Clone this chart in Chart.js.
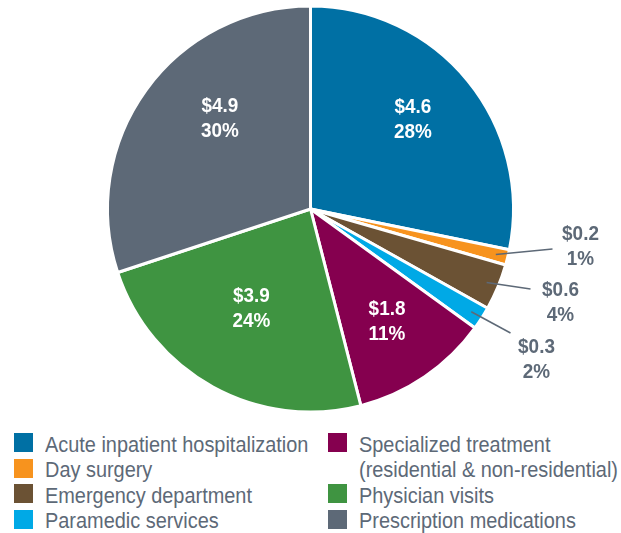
<!DOCTYPE html>
<html>
<head>
<meta charset="utf-8">
<script src="https://cdn.jsdelivr.net/npm/chart.js@4.4.0/dist/chart.umd.min.js"></script>
<style>
  html, body { margin: 0; padding: 0; background: #fff; }
  body { width: 621px; height: 533px; position: relative; overflow: hidden;
    font-family: "Liberation Sans", Arial, sans-serif; }
  #wrap { position: absolute; left: 0; top: 0; width: 621px; height: 418px; }
  .col { position: absolute; top: 431.5px; }
  .item { display: flex; align-items: flex-start; color: #5d6977; font-size: 22px; line-height: 25.5px; white-space: nowrap; }
  .sw { width: 19px; height: 19px; margin: 1.5px 12px 0 0; flex: none; }
  .txt { display: inline-block; transform: scaleX(0.905); transform-origin: 0 0; }
</style>
</head>
<body>
<div id="wrap"><canvas id="pie"></canvas></div>
<div class="col" id="col1" style="left:14px"></div>
<div class="col" id="col2" style="left:328px"></div>
<script>
// data (billions $)
const CATEGORIES = [
  'Acute inpatient hospitalization',
  'Day surgery',
  'Emergency department',
  'Paramedic services',
  ['Specialized treatment', '(residential & non-residential)'],
  'Physician visits',
  'Prescription medications'
];
const AMOUNTS = [4.6, 0.2, 0.6, 0.3, 1.8, 3.9, 4.9];
const PERCENTS = [28, 1, 4, 2, 11, 24, 30];
const COLORS = ['#0070a4', '#f7931e', '#6b5234', '#00a9e6', '#85004f', '#3f9441', '#5d6977'];

// label placement: inside (r = fraction of radius, da = angle shift in deg)
// or outside: leader end + text centre, both as offsets from the pie centre
const PLACE = [
  { r: 0.67, da: -2 },
  { end: [242, 40], text: [270, 38] },
  { end: [220, 80], text: [250, 94] },
  { end: [200, 124], text: [226, 151] },
  { r: 0.67, da: 0 },
  { r: 0.57, da: 2 },
  { r: 0.63, da: 9 }
];

const sliceLabels = {
  id: 'sliceLabels',
  afterDatasetsDraw(chart) {
    const ctx = chart.ctx;
    const meta = chart.getDatasetMeta(0);
    ctx.save();
    ctx.font = 'bold 21px "Liberation Sans", Arial, sans-serif';
    ctx.textAlign = 'center';
    ctx.textBaseline = 'middle';
    meta.data.forEach((arc, i) => {
      const p = arc.getProps(['x', 'y', 'startAngle', 'endAngle', 'outerRadius'], true);
      const mid = (p.startAngle + p.endAngle) / 2;
      const pl = PLACE[i];
      const lines = ['$' + AMOUNTS[i].toFixed(1), PERCENTS[i] + '%'];
      let cx, cy;
      if (pl.end) {
        const sx = p.x + Math.cos(mid) * p.outerRadius * 0.94;
        const sy = p.y + Math.sin(mid) * p.outerRadius * 0.94;
        ctx.strokeStyle = '#5d6977';
        ctx.lineWidth = 1.5;
        ctx.beginPath(); ctx.moveTo(sx, sy); ctx.lineTo(p.x + pl.end[0], p.y + pl.end[1]); ctx.stroke();
        cx = p.x + pl.text[0]; cy = p.y + pl.text[1];
        ctx.fillStyle = '#5d6977';
      } else {
        const a = mid + pl.da * Math.PI / 180;
        cx = p.x + Math.cos(a) * p.outerRadius * pl.r;
        cy = p.y + Math.sin(a) * p.outerRadius * pl.r;
        ctx.fillStyle = '#ffffff';
      }
      lines.forEach((t, k) => {
        ctx.save();
        ctx.translate(cx, cy + (k ? 12.5 : -12.5));
        ctx.scale(0.9, 1);
        ctx.fillText(t, 0, 0);
        ctx.restore();
      });
    });
    ctx.restore();
  }
};

new Chart(document.getElementById('pie'), {
  type: 'pie',
  data: {
    labels: CATEGORIES,
    datasets: [{ data: AMOUNTS, backgroundColor: COLORS, borderColor: '#ffffff', borderWidth: 3 }]
  },
  options: {
    responsive: true, maintainAspectRatio: false, animation: false,
    radius: 203,
    layout: { padding: 0 },
    plugins: { legend: { display: false }, tooltip: { enabled: false } }
  },
  plugins: [sliceLabels]
});

// html legend in two columns
const legendItem = (i) => {
  const txt = Array.isArray(CATEGORIES[i]) ? CATEGORIES[i].join('<br>') : CATEGORIES[i];
  return `<div class="item"><span class="sw" style="background:${COLORS[i]}"></span><span class="txt">${txt}</span></div>`;
};
document.getElementById('col1').innerHTML = [0, 1, 2, 3].map(legendItem).join('');
document.getElementById('col2').innerHTML = [4, 5, 6].map(legendItem).join('');
</script>
</body>
</html>
